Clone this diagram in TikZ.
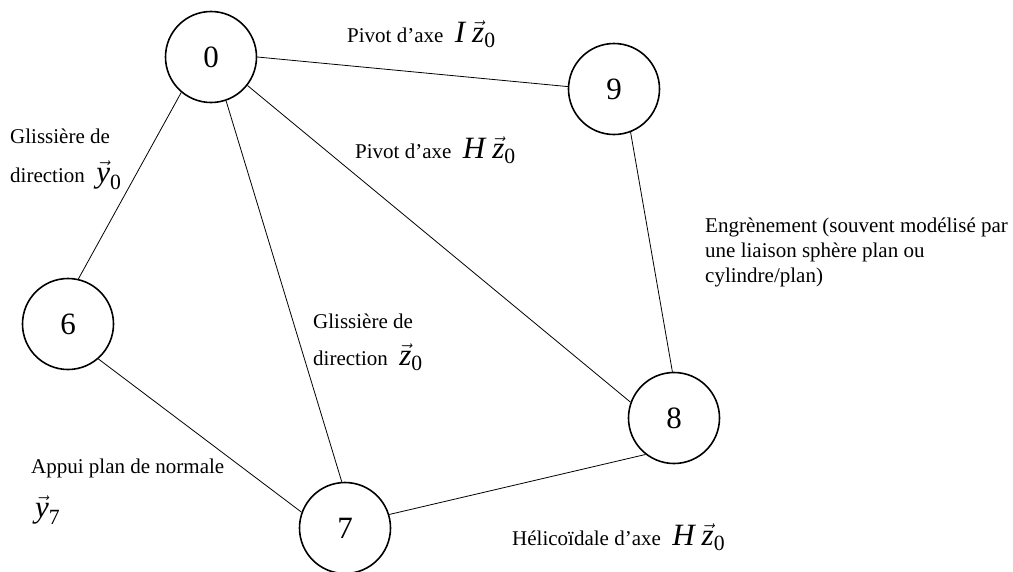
\documentclass[tikz,border=0pt]{standalone}
\usepackage{amsmath}
\usepackage{fontspec}
\setmainfont{Liberation Serif}
\begin{document}
\begin{tikzpicture}[x=1pt,y=-1pt,
  part/.style={circle,draw,line width=1.6pt,minimum size=91pt,inner sep=0pt,font=\fontsize{31}{34}\selectfont},
  link/.style={line width=0.8pt},
  lbl/.style={anchor=base west,inner sep=0pt,font=\fontsize{21}{25}\selectfont}]
\useasboundingbox (0,0) rectangle (1013,571);
\newcommand{\mybigmath}[1]{{\fontsize{31}{36}\selectfont $#1$}}
\newcommand{\mygap}{\hspace{0.55em}}
\node[part] (p0) at (211,57) {0};
\node[part] (p9) at (614,89) {9};
\node[part] (p6) at (68,324) {6};
\node[part] (p8) at (674,418) {8};
\node[part] (p7) at (345,528) {7};
\draw[link] (p0.0) -- (p9.177);
\draw[link] (p0.-130) -- (p6.77);
\draw[link] (p0.-71) -- (p7.94);
\draw[link] (p0.-38) -- (p8.160);
\draw[link] (p9.-69) -- (p8.92);
\draw[link] (p6.-49) -- (p7.160);
\draw[link] (p7.17) -- (p8.-128);
\node[lbl] (l1) at (347,42) {Pivot d’axe\mygap\mybigmath{\textit{I}\;\vec{\textit{z}}_{\textrm{0}}}};
\node[lbl] (l2) at (355,158) {Pivot d’axe\mygap\mybigmath{\textit{H}\;\vec{\textit{z}}_{\textrm{0}}}};
\node[lbl] (l3a) at (10,143) {Glissière de};
\node[lbl] (l3b) at (10,182) {direction\mygap\mybigmath{\vec{\textit{y}}_{\textrm{0}}}};
\node[lbl] (l4a) at (313,328) {Glissière de};
\node[lbl] (l4b) at (313,365) {direction\mygap\mybigmath{\vec{\textit{z}}_{\textrm{0}}}};
\node[lbl] (l5a) at (31,473) {Appui plan de normale};
\node[lbl] (l5b) at (35,517) {\mybigmath{\vec{\textit{y}}_{\textrm{7}}}};
\node[lbl] (l6) at (512,545) {Hélicoïdale d’axe\mygap\mybigmath{\textit{H}\;\vec{\textit{z}}_{\textrm{0}}}};
\node[lbl] (l7a) at (705,232) {Engrènement (souvent modélisé par};
\node[lbl] (l7b) at (705,257) {une liaison sphère plan ou};
\node[lbl] (l7c) at (705,282) {cylindre/plan)};
\end{tikzpicture}
\end{document}
